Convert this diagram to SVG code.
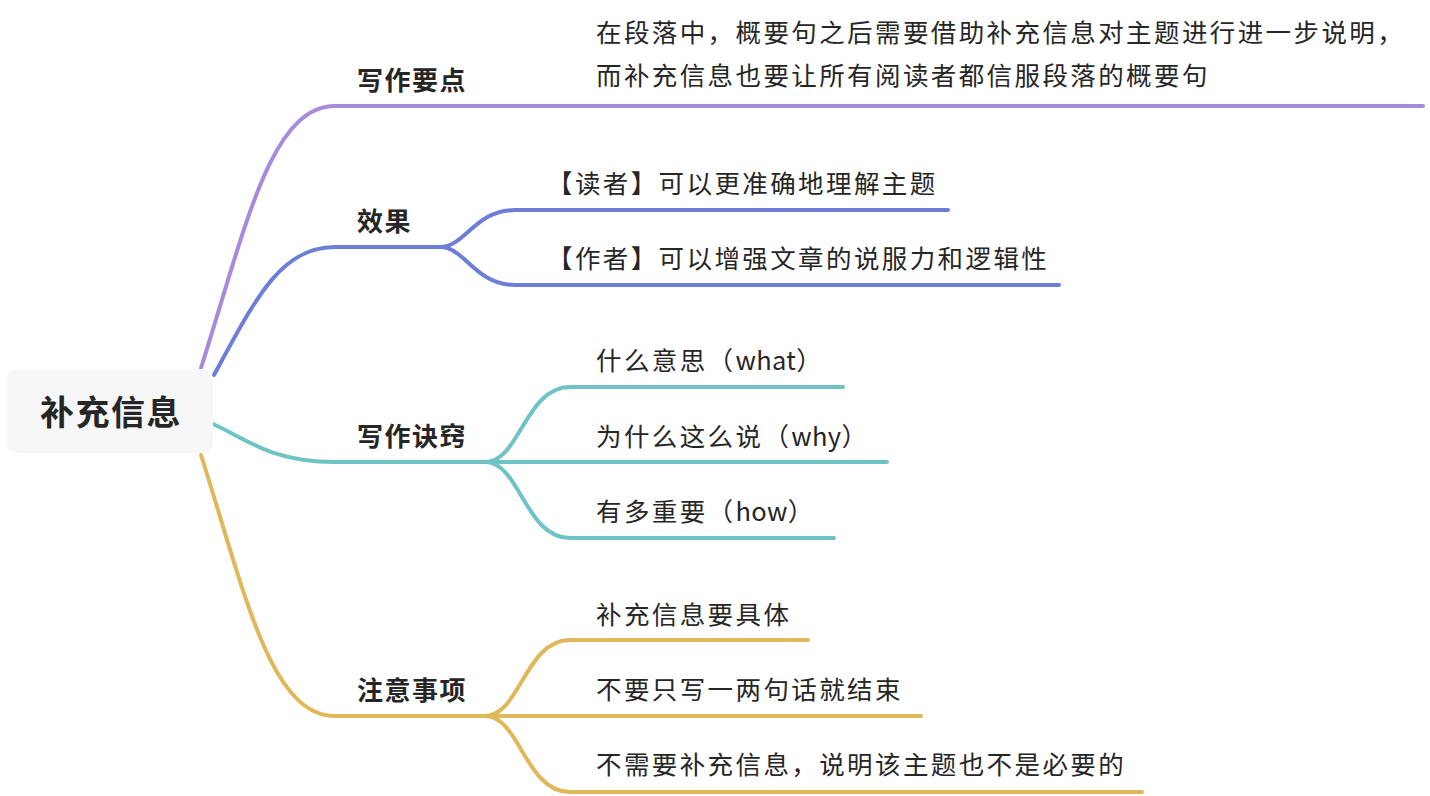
<svg xmlns="http://www.w3.org/2000/svg" width="1430" height="796" viewBox="0 0 1430 796">
<style>
.t{font-family:"Noto Sans CJK SC","Noto Sans",sans-serif;fill:#262626}
.root{font-size:34px;font-weight:700;letter-spacing:1.5px}
.title{font-size:26px;font-weight:700;letter-spacing:1.5px}
.leaf{font-size:25.5px;letter-spacing:2.4px}
.lat{letter-spacing:0.3px}
.c{fill:none;stroke-width:4;stroke-linecap:round;stroke-linejoin:round}
.p{stroke:#a68bdb}.b{stroke:#6c7ed7}.g{stroke:#6ec4c4}.y{stroke:#e0b85a}
</style>
<rect width="1430" height="796" fill="#ffffff"/>
<g id="connectors">
<path class="c p" d="M201 368 C245 230 270 106 335 106 L1423 106"/>
<path class="c b" d="M214 375 C255 300 280 247 335 247 L440 247"/>
<path class="c b" d="M440 247 C465 247 475 210 515 210 L948 210"/>
<path class="c b" d="M440 247 C465 247 475 285 515 285 L1059 285"/>
<path class="c g" d="M213 424 C245 438 270 462 335 462 L485 462"/>
<path class="c g" d="M485 462 C520 462 525 387 570 387 L843 387"/>
<path class="c g" d="M485 462 L887 462"/>
<path class="c g" d="M485 462 C520 462 525 538 570 538 L834 538"/>
<path class="c y" d="M201 455 C245 593 270 716 335 716 L485 716"/>
<path class="c y" d="M485 716 C520 716 525 640 570 640 L808 640"/>
<path class="c y" d="M485 716 L921 716"/>
<path class="c y" d="M485 716 C520 716 525 792 570 792 L1142 792"/>
</g>
<g id="root">
<rect x="7" y="369" width="206" height="84" rx="10" fill="#f7f7f7"/>
<text class="t root" x="111" y="425" text-anchor="middle">补充信息</text>
</g>
<g id="n-xiezuoyaodian">
<text class="t title" x="357" y="90">写作要点</text>
</g>
<g id="n-xiezuoyaodian-1">
<text class="t leaf" x="596" y="42">在段落中，概要句之后需要借助补充信息对主题进行进一步说明，</text>
<text class="t leaf" x="596" y="85">而补充信息也要让所有阅读者都信服段落的概要句</text>
</g>
<g id="n-xiaoguo">
<text class="t title" x="357" y="231">效果</text>
</g>
<g id="n-xiaoguo-1">
<text class="t leaf" x="547" y="193">【读者】可以更准确地理解主题</text>
</g>
<g id="n-xiaoguo-2">
<text class="t leaf" x="547" y="268">【作者】可以增强文章的说服力和逻辑性</text>
</g>
<g id="n-juqiao">
<text class="t title" x="357" y="446">写作诀窍</text>
</g>
<g id="n-juqiao-1">
<text class="t leaf" x="596" y="370">什么意思（<tspan class="lat">what</tspan>）</text>
</g>
<g id="n-juqiao-2">
<text class="t leaf" x="596" y="446">为什么这么说（<tspan class="lat">why</tspan>）</text>
</g>
<g id="n-juqiao-3">
<text class="t leaf" x="596" y="521">有多重要（<tspan class="lat">how</tspan>）</text>
</g>
<g id="n-zhuyi">
<text class="t title" x="357" y="700">注意事项</text>
</g>
<g id="n-zhuyi-1">
<text class="t leaf" x="596" y="624">补充信息要具体</text>
</g>
<g id="n-zhuyi-2">
<text class="t leaf" x="596" y="699">不要只写一两句话就结束</text>
</g>
<g id="n-zhuyi-3">
<text class="t leaf" x="596" y="774">不需要补充信息，说明该主题也不是必要的</text>
</g>
</svg>
